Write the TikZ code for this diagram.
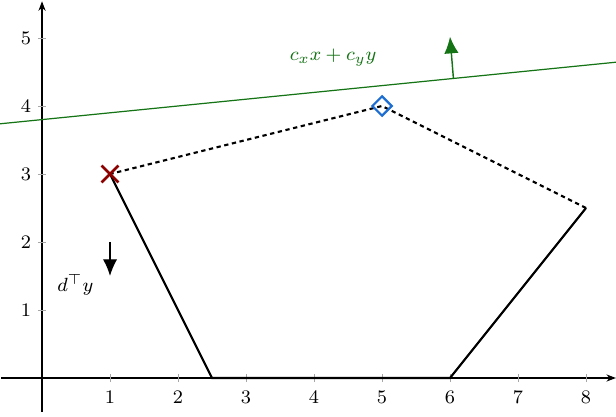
\documentclass[tikz,border=0pt]{standalone}
\usetikzlibrary{arrows.meta,shapes.geometric,shapes.misc}
\definecolor{dgreen}{RGB}{20,115,20}
\definecolor{dred}{RGB}{140,0,0}
\definecolor{dblue}{RGB}{30,110,210}
\begin{document}
\begin{tikzpicture}[x=1cm,y=1cm,
  axisline/.style={-{Stealth[length=4pt,width=3pt]},line width=0.5pt},
  tickmark/.style={gray!70,line width=0.4pt},
  ticklabel/.style={font=\footnotesize,inner sep=1pt},
  poly/.style={line width=0.9pt},
  polydash/.style={line width=0.9pt,dash pattern=on 1.8pt off 1.5pt},
  bigarrow/.style={-{Latex[length=7pt,width=6pt]},line width=0.6pt}]
\useasboundingbox (-0.618,-0.559) rectangle (8.441,5.559);
\begin{scope}
\clip (-0.618,-0.559) rectangle (8.441,5.559);
% axes
\coordinate (xs) at (-0.6,0); \coordinate (xe) at (8.44,0);
\coordinate (ys) at (0,-0.5); \coordinate (ye) at (0,5.54);
\draw[axisline] (xs) -- (xe);
\draw[axisline] (ys) -- (ye);
\foreach \i in {1,...,8} {
  \draw[tickmark] (\i,-0.06) -- (\i,0.06);
  \node[ticklabel,below] (xl\i) at (\i,-0.15) {$\i$};
}
\foreach \j in {1,...,5} {
  \draw[tickmark] (-0.06,\j) -- (0.06,\j);
  \node[ticklabel,left] (yl\j) at (-0.12,\j) {$\j$};
}
% green objective line
\coordinate (gl) at (-0.7,3.73); \coordinate (gr) at (8.5,4.65);
\draw[dgreen,line width=0.5pt] (gl) -- (gr);
\coordinate (ga) at (6.05,4.405); \coordinate (gb) at (6.0,5.02);
\draw[bigarrow,dgreen] (ga) -- (gb);
\node[dgreen,font=\footnotesize] (cl) at (4.28,4.71) {$c_x x + c_y y$};
% polygon
\coordinate (p1) at (1,3); \coordinate (p2) at (2.5,0);
\coordinate (p3) at (6,0); \coordinate (p4) at (8,2.5);
\coordinate (p5) at (5,4);
\draw[poly] (p1) -- (p2) -- (p3) -- (p4);
\draw[polydash] (p4) -- (p5) -- (p1);
% markers
\node[draw=dred,cross out,line width=1.1pt,minimum size=6pt,inner sep=0pt] (mx) at (p1) {};
\node[draw=dblue,diamond,line width=0.9pt,minimum size=8.5pt,inner sep=0pt] (md) at (p5) {};
% d^T y arrow
\coordinate (da) at (1,2); \coordinate (db) at (1,1.5);
\draw[bigarrow,black] (da) -- (db);
\node[font=\footnotesize] (dl) at (0.49,1.37) {$d^\top y$};
\end{scope}
\end{tikzpicture}
\end{document}
